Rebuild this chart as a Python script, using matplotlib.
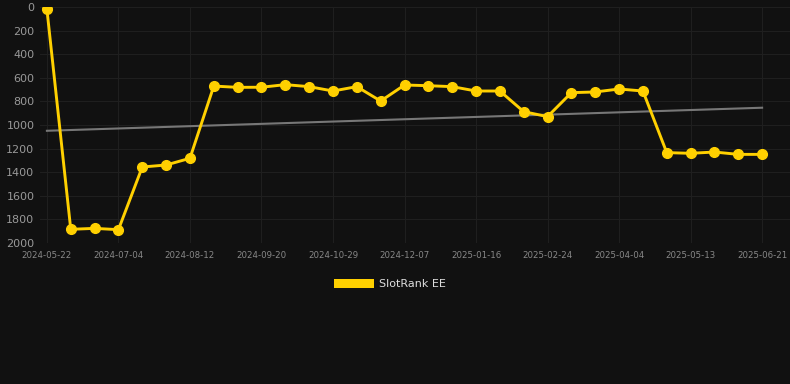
import numpy as np
import matplotlib
matplotlib.use("Agg")
import matplotlib.pyplot as plt
from matplotlib.patches import Patch

# rank values (lower = better)
ranks = [20, 1884, 1876, 1887, 1356, 1339, 1282, 670, 681, 680, 658,
         675, 712, 675, 797, 661, 667, 675, 712, 712, 887, 929,
         726, 720, 695, 712, 1234, 1240, 1229, 1249, 1249]
tick_labels = ["2024-05-22", "2024-07-04", "2024-08-12", "2024-09-20",
               "2024-10-29", "2024-12-07", "2025-01-16", "2025-02-24",
               "2025-04-04", "2025-05-13", "2025-06-21"]
series_name = "SlotRank EE"

bg = "#111111"
gold = "#FFD000"

x = np.arange(len(ranks))
slope, intercept = np.polyfit(x, ranks, 1)

fig = plt.figure(figsize=(7.9, 3.84), dpi=100, facecolor=bg)
ax = fig.add_axes([40 / 790, 1 - 243 / 384, 750 / 790, 236 / 384])
ax.set_facecolor(bg)

ax.plot(x, slope * x + intercept, color="#777777", lw=1.5, zorder=2)
ax.plot(x, ranks, color=gold, lw=2.1, marker="o", ms=7, zorder=3)

ax.set_ylim(2000, 0)
ax.set_xlim(-0.29, 31.17)
ax.set_yticks(range(0, 2001, 200))
ax.set_xticks(x[::3])
ax.set_xticklabels(tick_labels)
ax.tick_params(axis="y", colors="#999999", labelsize=8, length=0, pad=4)
ax.tick_params(axis="x", colors="#888888", labelsize=6.2, length=0, pad=6)
ax.grid(True, color="#1f1f1f", lw=0.8)
ax.set_axisbelow(True)
for s in ax.spines.values():
    s.set_visible(False)

fig.legend(handles=[Patch(facecolor=gold, edgecolor="none")], labels=[series_name],
           loc="center", bbox_to_anchor=(390 / 790, 1 - 284 / 384),
           frameon=False, fontsize=8, labelcolor="#dddddd",
           handlelength=3.6, handleheight=0.9, handletextpad=0.5)

fig.savefig("out.png", dpi=100, facecolor=bg)
